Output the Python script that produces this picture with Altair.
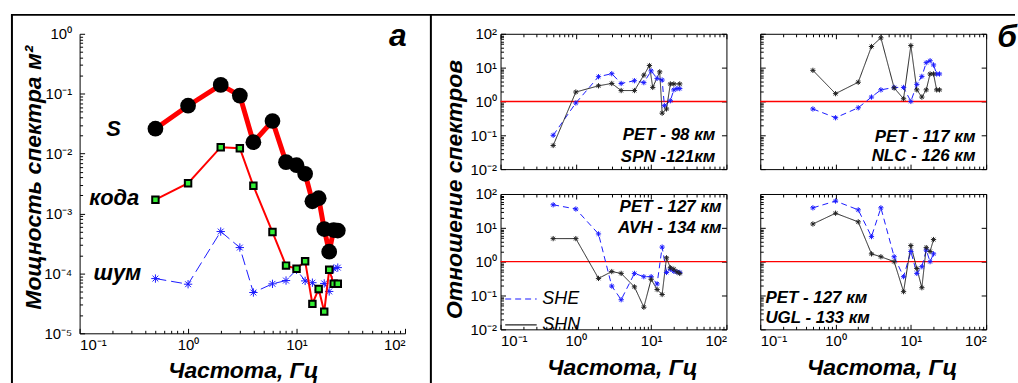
import altair as alt
import pandas as pd

FONT = "Liberation Sans"

# ---------------- panel а : spectral power ----------------
freq_a = [0.5, 1, 2, 3, 4, 6, 8, 10, 12, 14, 16, 18, 20, 22, 24]
power_s = [0.026, 0.063, 0.14, 0.093, 0.0155, 0.035, 0.0072, 0.0064, 0.0046,
           0.0016, 0.0018, 0.00055, 0.00023, 0.00053, 0.00052]
power_coda = [0.0017, 0.0032, 0.0128, 0.0123, 0.0029, 0.00049, 0.000135, 0.00012,
              0.00016, 3.1e-5, 5.5e-5, 2.3e-5, 0.000115, 6.7e-5, 6.7e-5]
power_noise = [8.2e-5, 6.6e-5, 5.0e-4, 2.7e-4, 4.8e-5, 6.7e-5, 7.6e-5, 1.15e-4,
               7.5e-5, 7.0e-5, 5.3e-5, 6.8e-5, 5.0e-5, 1.2e-4, 1.25e-4]
curve_names = ["S", "кода", "шум"]
curve_name_f = [0.24, 0.355, 0.37]
curve_name_v = [0.026, 0.0018, 1.0e-4]

# ---------------- panels б : spectral ratios ----------------
freq_b = [0.5, 1, 2, 3, 4, 6, 8, 10, 12, 14, 16, 18, 20, 22, 24]

p1_she_f = [0.5, 1, 2, 3, 4, 6, 8, 10, 12, 14, 15, 18, 20, 22, 24]
p1_she = [0.1, 0.9, 5.4, 6.6, 3.4, 4.1, 3.6, 8.0, 4.8, 4.3, 0.75, 1.05, 2.2, 2.4, 2.4]
p1_shn_f = [0.5, 1, 2, 3, 4, 6, 8, 9.5, 10.5, 13, 14, 16, 18, 20, 24]
p1_shn = [0.05, 1.9, 2.9, 3.4, 2.1, 2.1, 6.0, 11.5, 2.6, 7.5, 0.45, 0.6, 3.3, 3.3, 3.3]
p1_notes = ["PET - 98 км", "SPN -121км"]
p1_note_f = [71, 71]
p1_note_v = [0.1, 0.0224]

p2_she = [0.6, 0.33, 0.65, 1.35, 2.2, 2.6, 2.6, 1.0, 3.2, 5.5, 14, 16, 12, 6.5, 6.5]
p2_shn = [8.3, 1.7, 3.7, 42, 76, 2.5, 1.2, 45, 2.2, 1.35, 2.2, 6.5, 6.5, 2.2, 2.2]
p2_notes = ["PET - 117 км", "NLC - 126 км"]
p2_note_f = [72, 72]
p2_note_v = [0.091, 0.0237]

p3_she = [48, 36, 6.6, 0.19, 0.075, 0.45, 0.36, 0.36, 0.22, 2.7, 0.48, 0.6, 0.52, 0.5, 0.48]
p3_shn = [4.8, 4.8, 0.32, 0.51, 0.45, 0.18, 0.045, 0.3, 0.15, 0.107, 1.3, 0.66, 0.6, 0.5, 0.45]
p3_notes = ["PET - 127 км", "AVH - 134 км"]
p3_note_f = [86, 86]
p3_note_v = [41.5, 10.0]

p4_f = [0.5, 1, 2, 3, 4, 6, 8, 10, 12, 14, 16, 18, 20]
p4_she = [39, 62, 34, 5.5, 39, 1.4, 0.36, 2.0, 0.45, 0.71, 2.2, 1.0, 1.7]
p4_shn = [13, 27, 15, 1.7, 1.4, 1.0, 0.13, 3.0, 0.63, 0.17, 2.6, 2.0, 4.5]
p4_notes = ["PET - 127 км", "UGL - 133 км"]
p4_note_f = [0.117, 0.117]
p4_note_v = [0.082, 0.021]

components = ["SHE", "SHN"]
component_colors = ["#1a1aff", "#222222"]

# ---------------- helpers ----------------
ASTERISK = "M-1,0L1,0M0,-1L0,1M-0.7,-0.7L0.7,0.7M-0.7,0.7L0.7,-0.7"
EXP = "round(log(datum.value)/LN10)"
LOGEXPR = ("'10' + (" + EXP + " < 0 ? '\u207b' : '') + "
           "['\u2070','\u00b9','\u00b2','\u00b3','\u2074','\u2075','\u2076'][abs(" + EXP + ")]")
MAJOR_TEST = "abs(log(datum.value)/LN10 - " + EXP + ") < 0.001"


def decades(lo, hi):
    return [10.0 ** k for k in range(lo, hi + 1)]


def minors(lo, hi):
    out = []
    for k in range(lo, hi):
        for m in range(1, 10):
            out.append(float(f"{m}e{k}"))
    out.append(10.0 ** hi)
    return out


def tick_axis(vals, orient, offset):
    return alt.Axis(values=vals, orient=orient, offset=offset, labels=False, domain=False,
                    ticks=True, grid=False, title=None, tickColor="black", tickWidth=1,
                    tickSize={"condition": {"test": MAJOR_TEST, "value": 5}, "value": 3})


TITLE_STYLE = dict(titleFont=FONT, titleFontSize=23, titleFontWeight="bold",
                   titleFontStyle="italic", titleColor="black")


def label_axis(vals, orient, show, size, pad, title=None, tx=None, ty=None, domain=False):
    kw = dict(values=vals, orient=orient, labels=show, labelExpr=LOGEXPR, ticks=False,
              tickSize=0, domain=domain, grid=False, labelFont=FONT, labelFontSize=size,
              labelColor="black", labelPadding=pad, title=title)
    if domain:
        kw.update(domainColor="black", domainWidth=1)
    if title:
        kw.update(TITLE_STYLE)
        kw.update(titleX=tx, titleY=ty, titleAlign="center", titleBaseline="middle")
        if orient in ("left", "right"):
            kw.update(titleAngle=270)
    return alt.Axis(**kw)


# ---------------- panel а ----------------
WA, HA = 327, 301
xs_a = alt.Scale(type="log", domain=[0.1, 100], nice=False)
ys_a = alt.Scale(type="log", domain=[1e-5, 1], nice=False)
xa_lab = label_axis(decades(-1, 2), "bottom", True, 15, 4, "Частота, Гц", 164, 37, domain=True)
ya_lab = label_axis(decades(-5, 0), "left", True, 15, 8, "Мощность спектра м\u00b2", -46, 144, domain=True)
XA = alt.X("f:Q", scale=xs_a, axis=xa_lab)
YA = alt.Y("v:Q", scale=ys_a, axis=ya_lab)

df_s = pd.DataFrame({"f": freq_a, "v": power_s})
df_c = pd.DataFrame({"f": freq_a, "v": power_coda})
df_n = pd.DataFrame({"f": freq_a, "v": power_noise})
df_names = pd.DataFrame({"f": curve_name_f, "v": curve_name_v, "t": curve_names})
df_a_letter = pd.DataFrame({"f": [86], "v": [0.93], "t": ["а"]})
df_b_letter = pd.DataFrame({"f": [140], "v": [82], "t": ["б"]})

frame = pd.DataFrame({"k": [0]})
frame_layers = [
    alt.Chart(frame).mark_rule(color="black", strokeWidth=2).encode(
        x=alt.value(-68), y=alt.value(-19), y2=alt.value(352)),
    alt.Chart(frame).mark_rule(color="black", strokeWidth=2).encode(
        x=alt.value(353), y=alt.value(-19), y2=alt.value(352)),
    alt.Chart(frame).mark_rule(color="black", strokeWidth=2).encode(
        x=alt.value(-69), x2=alt.value(940), y=alt.value(-19)),
]

a_data = alt.layer(
    alt.Chart(df_n).mark_line(color="#1a1aff", strokeWidth=1, strokeDash=[11, 5]).encode(x=XA, y=YA),
    alt.Chart(df_n).mark_point(shape=ASTERISK, filled=False, color="#1a1aff", size=70,
                               strokeWidth=1, opacity=1).encode(x=XA, y=YA),
    alt.Chart(df_c).mark_line(color="#ff0000", strokeWidth=2).encode(x=XA, y=YA),
    alt.Chart(df_c).mark_point(shape="square", filled=True, fill="#33ee33", stroke="black",
                               strokeWidth=2, size=42, opacity=1).encode(x=XA, y=YA),
    alt.Chart(df_s).mark_line(color="#ff0000", strokeWidth=5).encode(x=XA, y=YA),
    alt.Chart(df_s).mark_point(shape="circle", filled=True, color="black", size=250,
                               opacity=1).encode(x=XA, y=YA),
    alt.Chart(df_names).mark_text(font=FONT, fontSize=22, fontWeight="bold", fontStyle="italic",
                                  align="right", baseline="middle", color="black").encode(
        x=XA, y=YA, text="t:N"),
    alt.Chart(df_a_letter).mark_text(font=FONT, fontSize=32, fontWeight="bold", fontStyle="italic",
                                     align="center", baseline="middle", color="black").encode(
        x=XA, y=YA, text="t:N"),
    *frame_layers,
)
a_ticks = alt.Chart(df_s).mark_point(opacity=0).encode(
    x=alt.X("f:Q", scale=xs_a, axis=tick_axis(minors(-1, 2), "top", -HA)),
    y=alt.Y("v:Q", scale=ys_a, axis=tick_axis(minors(-5, 0), "right", -WA)),
)
panel_a = alt.layer(a_data, a_ticks).resolve_axis(x="independent", y="independent").properties(
    width=WA, height=HA, view=alt.ViewBackground(stroke="transparent"))

# ---------------- panels б ----------------
WB, HB = 227, 136
cscale = alt.Scale(domain=components, range=component_colors)
dscale = alt.Scale(domain=components, range=[[6, 4], [1, 0]])


def small_panel(f_she, v_she, f_shn, v_shn, notes, note_f, note_v, note_align,
                show_x, show_y, legend=False, ytitle=False, letter=False):
    xs = alt.Scale(type="log", domain=[0.1, 100], nice=False)
    ys = alt.Scale(type="log", domain=[0.01, 100], nice=False)
    xlab = label_axis(decades(-1, 2), "bottom", show_x, 15, 4,
                      "Частота, Гц" if show_x else None, 122, 38)
    ylab = label_axis(decades(-2, 2), "left", show_y, 15, 4,
                      "Отношение спектров" if ytitle else None, -46, 156)
    X = alt.X("f:Q", scale=xs, axis=xlab)
    Y = alt.Y("v:Q", scale=ys, axis=ylab)
    df = pd.DataFrame({"f": list(f_she) + list(f_shn), "v": list(v_she) + list(v_shn),
                       "comp": ["SHE"] * len(f_she) + ["SHN"] * len(f_shn)})
    if legend:
        leg = alt.Legend(title=None, orient="none", legendX=4, legendY=89, symbolType="stroke",
                         symbolSize=1000, symbolStrokeWidth=1.2, labelFont=FONT, labelFontSize=18,
                         labelFontStyle="italic", labelColor="black", rowPadding=-4, labelOffset=5,
                         padding=0)
    else:
        leg = None
    dnotes = pd.DataFrame({"f": note_f, "v": note_v, "t": notes})
    layers = [
        alt.Chart(pd.DataFrame({"v": [1.0]})).mark_rule(color="#ff0000", strokeWidth=1.4).encode(y=Y),
        alt.Chart(df).mark_line(strokeWidth=1).encode(
            x=X, y=Y,
            color=alt.Color("comp:N", scale=cscale, legend=leg),
            strokeDash=alt.StrokeDash("comp:N", scale=dscale, legend=leg)),
        alt.Chart(df).mark_point(shape=ASTERISK, filled=False, size=28, strokeWidth=1, opacity=1).encode(
            x=X, y=Y, color=alt.Color("comp:N", scale=cscale, legend=None)),
        alt.Chart(dnotes).mark_text(font=FONT, fontSize=17, fontWeight="bold", fontStyle="italic",
                                    align=note_align, baseline="middle", color="black").encode(
            x=X, y=Y, text="t:N"),
    ]
    if letter:
        layers.append(alt.Chart(df_b_letter).mark_text(font=FONT, fontSize=32, fontWeight="bold",
                                                        fontStyle="italic", align="left",
                                                        baseline="middle", color="black").encode(
            x=X, y=Y, text="t:N"))
    data = alt.layer(*layers)
    tb = alt.Chart(df).mark_point(opacity=0).encode(
        x=alt.X("f:Q", scale=xs, axis=tick_axis(minors(-1, 2), "top", -HB)),
        y=alt.Y("v:Q", scale=ys, axis=tick_axis(minors(-2, 2), "right", -WB)))
    tc = alt.Chart(df).mark_point(opacity=0).encode(
        x=alt.X("f:Q", scale=xs, axis=tick_axis(minors(-1, 2), "bottom", -HB)),
        y=alt.Y("v:Q", scale=ys, axis=tick_axis(decades(-2, 2), "left", -WB)))
    return alt.layer(data, tb, tc).resolve_axis(x="independent", y="independent").properties(
        width=WB, height=HB, view=alt.ViewBackground(stroke="black", strokeWidth=1))


p1 = small_panel(p1_she_f, p1_she, p1_shn_f, p1_shn, p1_notes, p1_note_f, p1_note_v, "right",
                 False, True, ytitle=True)
p2 = small_panel(freq_b, p2_she, freq_b, p2_shn, p2_notes, p2_note_f, p2_note_v, "right",
                 False, False, letter=True)
p3 = small_panel(freq_b, p3_she, freq_b, p3_shn, p3_notes, p3_note_f, p3_note_v, "right",
                 True, True, legend=True)
p4 = small_panel(p4_f, p4_she, p4_f, p4_shn, p4_notes, p4_note_f, p4_note_v, "left",
                 True, False)

grid = alt.concat(p1, p2, p3, p4, columns=2, spacing={"row": 25, "column": 34},
                  bounds="flush").resolve_scale(color="independent", strokeDash="independent")
chart = alt.hconcat(panel_a, grid, spacing=96, bounds="flush").resolve_scale(
    color="independent", strokeDash="independent").properties(
    padding={"left": 9, "top": 12, "right": 0, "bottom": 0}, background="white")

chart.save("out.html", embed_options={"renderer": "svg", "actions": False})
